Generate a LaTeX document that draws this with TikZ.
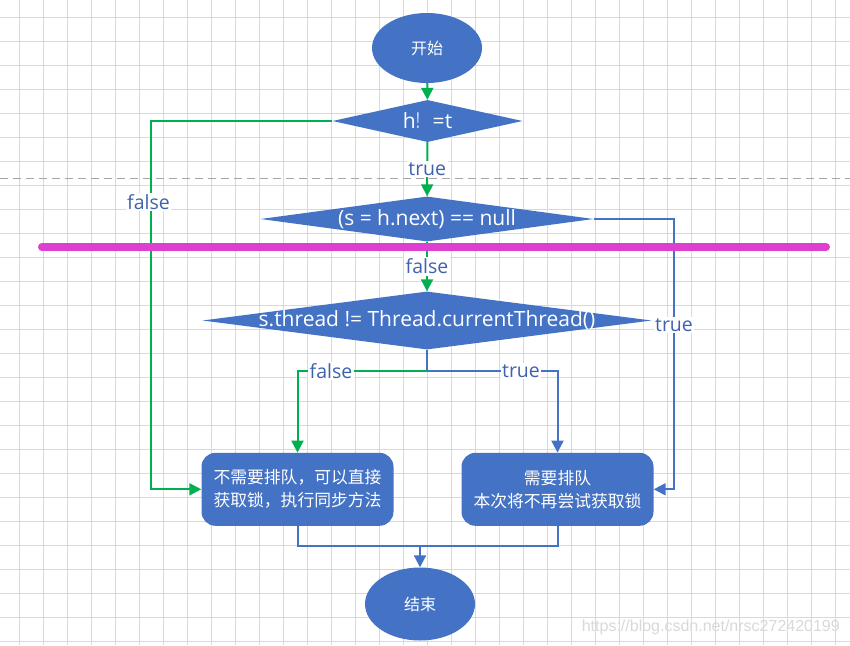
\documentclass[tikz,border=0pt]{standalone}
\usepackage{graphicx}
\usepackage{fontspec}
\setmainfont{Open Sans}
\newfontfamily\cjk{Noto Sans CJK SC}
\newfontfamily\wmfont{Liberation Sans}
\usetikzlibrary{shapes.geometric,arrows.meta,calc}
\definecolor{fillblue}{HTML}{4472C4}
\definecolor{lgreen}{HTML}{00B050}
\definecolor{lblue}{HTML}{4472C4}
\definecolor{labblue}{HTML}{3F62AE}
\definecolor{gridgray}{HTML}{D9D9D9}
\definecolor{mline}{HTML}{DD40D0}
\tikzset{
  gridline/.style={draw=gridgray, line width=1pt},
  dashline/.style={draw=black!35, line width=1pt, dash pattern=on 8pt off 5pt},
  term/.style={ellipse, fill=fillblue, text=white, minimum width=110pt, minimum height=70pt, inner sep=0pt, font=\cjk\fontsize{16}{18}\selectfont},
  dia/.style={diamond, fill=fillblue, inner sep=0pt},
  dtext/.style={text=white, inner sep=0pt, font=\fontsize{21}{24}\selectfont},
  box/.style={rectangle, rounded corners=14pt, fill=fillblue, text=white, minimum width=192pt, minimum height=73pt, align=center, inner sep=0pt, font=\cjk\fontsize{16.8}{23}\selectfont},
  lab/.style={fill=white, text=labblue, inner sep=1.5pt, font=\fontsize{19.5}{21}\selectfont},
  gline/.style={draw=lgreen, line width=2pt},
  bline/.style={draw=lblue, line width=2pt},
  arr/.style={-{Triangle[length=12pt,width=12pt]}},
  wm/.style={text=black!15, inner sep=0pt, font=\wmfont\fontsize{16}{18}\selectfont}
}
\begin{document}
\begin{tikzpicture}[x=1pt,y=-1pt]
\useasboundingbox (0,0) rectangle (850,645);
\fill[white] (0,0) rectangle (850,645);
% grid
\foreach \i in {0,...,34} \draw[gridline] ({19.5+24*\i},0) -- ({19.5+24*\i},645);
\foreach \j in {0,...,26} \draw[gridline] (0,{17+24*\j}) -- (850,{17+24*\j});
\draw[dashline] (0,178) -- (850,178);
% nodes
\node[term] (start) at (427,48) {开始};
\node[dia, minimum width=190pt, minimum height=42pt] (d1) at (427.5,121) {};
\node[dtext] (t1) at (d1) {h\scalebox{0.55}[1]{\cjk ！} =t};
\node[dia, minimum width=333pt, minimum height=45pt] (d2) at (427,219) {};
\node[dtext] (t2) at (d2) {(s = h.next) == null};
\node[dia, minimum width=449pt, minimum height=58pt] (d3) at (427,320.5) {};
\node[dtext] (t3) at (d3) {s.thread != Thread.currentThread()};
\node[box] (b1) at (297.5,489.3) {不需要排队，可以直接\\获取锁，执行同步方法};
\node[box] (b2) at (557.5,489.3) {需要排队\\本次将不再尝试获取锁};
\node[term, minimum height=73pt] (end) at (420,604) {结束};
% connectors
\coordinate (jl) at (151,121);
\coordinate (jr) at (674,219);
\coordinate (jm) at (427,371);
\coordinate (jb) at (420,546);
\draw[gline, arr] (start) -- (d1);
\draw[gline, arr] (d1) -- (d2) node[lab, midway] (ltrue1) {true};
\draw[gline, arr] (d2) -- (d3) node[lab, midway] (lfalse2) {false};
\draw[gline, arr] (d1.west) -- (jl) |- (b1.west);
\draw[bline, arr] (d2.east) -- (jr) |- (b2.east);
\draw[bline] (d3.south) -- (jm);
\draw[gline, arr] (jm) -| (b1.north);
\draw[bline, arr] (jm) -| (b2.north);
\draw[bline] (b1.south) |- (jb) -| (b2.south);
\draw[bline, arr] (jb) -- (end);
% labels
\node[lab] (lfalse1) at (148.5,202) {false};
\node[lab] (ltrue2) at (674,325) {true};
\node[lab] (lfalse3) at (331,371) {false};
\node[lab] (ltrue3) at (521,371) {true};
% magenta mark
\draw[mline, line width=8pt, line cap=round] (42,247) -- (826,247);
% watermark
\node[wm, anchor=east] (wmark) at (840,627) {https://blog.csdn.net/nrsc272420199};
\end{tikzpicture}
\end{document}
